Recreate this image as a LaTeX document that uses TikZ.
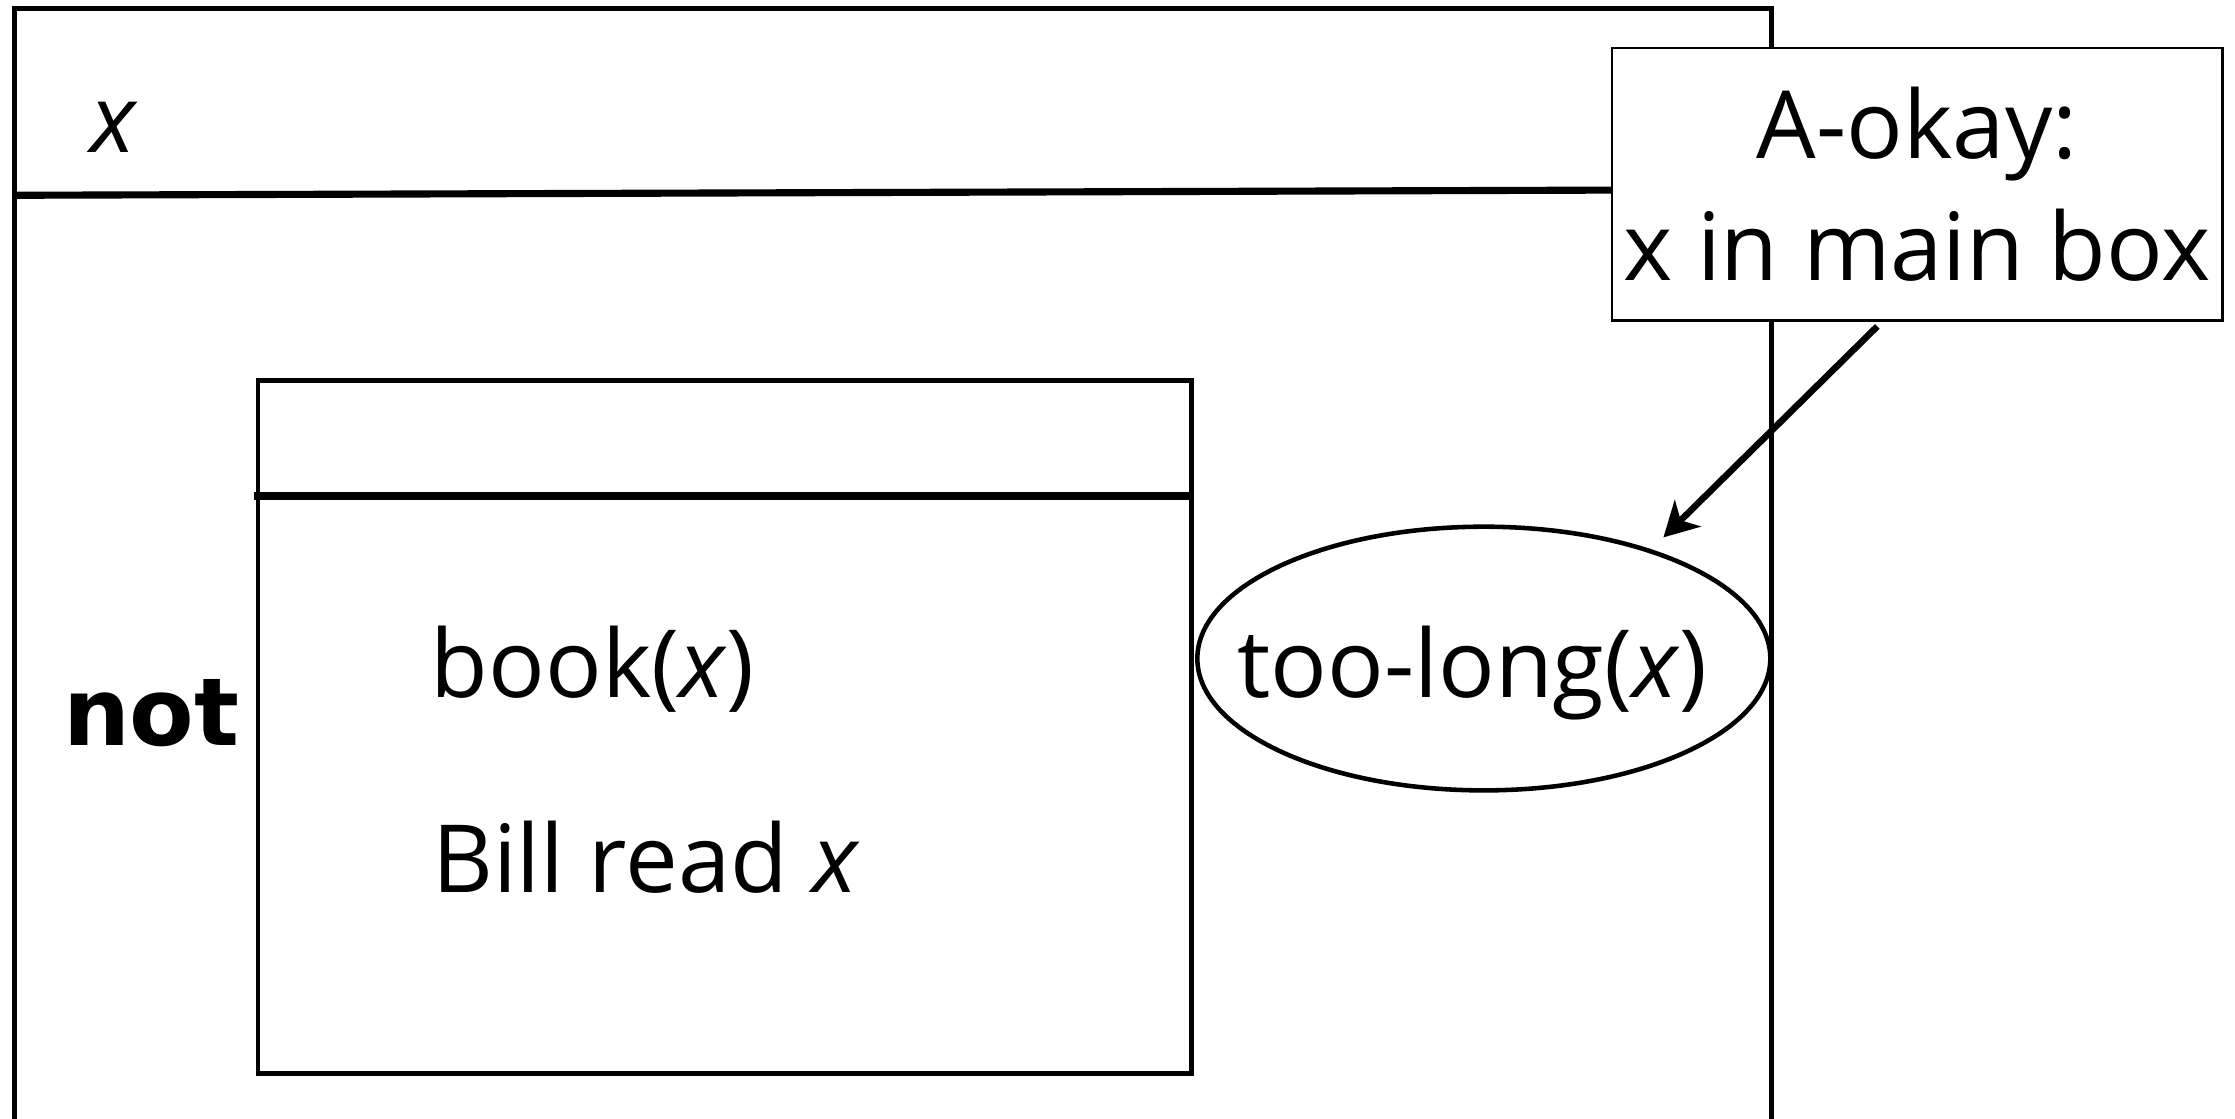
\documentclass[tikz,border=0pt]{standalone}
\usepackage{fontspec}
\setmainfont{Open Sans}
\newfontfamily\notfont{DejaVu Sans}
\usetikzlibrary{shapes.geometric,arrows.meta}
\begin{document}
\begin{tikzpicture}[x=1pt,y=-1pt, font=\fontsize{66}{86}\selectfont,
  drsbox/.style={draw, line width=3.4pt, inner sep=0pt},
  divider/.style={line width=5pt},
  txt/.style={anchor=base west, inner sep=0pt},
  callout/.style={draw, fill=white, line width=1.9pt, align=center, minimum width=428pt, minimum height=191pt, inner sep=0pt},
  cond/.style={ellipse, draw, line width=3.2pt, minimum width=402pt, minimum height=185pt, inner sep=0pt},
  arr/.style={-{Stealth[length=24pt,width=26pt,inset=7pt]}, line width=4.6pt}]
\useasboundingbox (0,0) rectangle (1568,785);
\begin{scope}
\clip (0,0) rectangle (1568,785);
\node[drsbox, minimum width=1233pt, minimum height=820pt] (outer) at (626.5,416) {};
\end{scope}
\draw[divider] (10,137) -- (1243,133);
\node[txt] (xref) at (63,107) {\textit{x}};
% inner box
\node[drsbox, minimum width=655pt, minimum height=486pt] (inner) at (508.5,510) {};
\draw[divider] (178,348) -- (inner.east |- 0,348);
\node[txt] (neg) at (44,523) {\notfont\bfseries not};
\node[txt] (book) at (302,489) {book(\textit{x})};
\node[txt] (read) at (303,626) {Bill read \textit{x}};
% condition in ellipse
\node[cond] (ell) at (1041,462) {};
\node[txt, anchor=base] (toolong) at (1033,489) {too-long(\textit{x})};
% callout
\node[callout] (note) at (1345,129.2) {A-okay:\\x in main box};
\coordinate (arrstart) at (1317,229);
\draw[arr] (arrstart) -- (1167,377) coordinate (arrend);
\end{tikzpicture}
\end{document}
